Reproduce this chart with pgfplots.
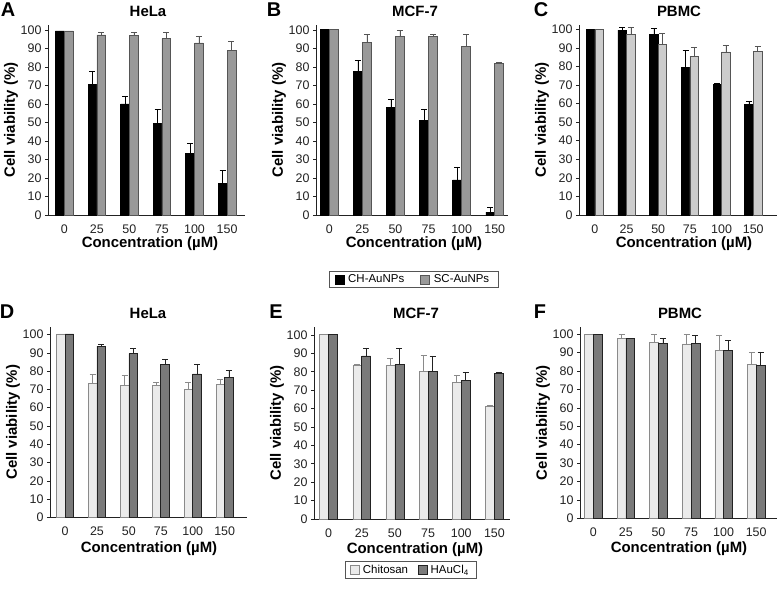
\documentclass[border=0pt]{standalone}
\usepackage{fontspec}
\setmainfont{Liberation Sans}
\usepackage{pgfplots}
\pgfplotsset{compat=1.18}
\definecolor{scgrey}{HTML}{999999}
\definecolor{pbgrey}{HTML}{CCCCCC}
\definecolor{chit}{HTML}{EBEBEB}
\definecolor{hau}{HTML}{7A7A7A}
\definecolor{edgegrey}{HTML}{555555}
\definecolor{lightedge}{HTML}{8A8A8A}
\definecolor{axisc}{HTML}{222222}

\newcommand{\lblfont}{\fontsize{15}{17}\selectfont\bfseries}
\pgfplotsset{
  panel/.style={
    scale only axis,
    axis lines=left,
    axis line style={-, line width=0.8bp, color=axisc},
    ybar, bar width=0.27,
    enlargelimits=false,
    ymin=0,
    ytick={0,10,...,100},
    xtick={0,1,2,3,4,5},
    xticklabels={0,25,50,75,100,150},
    xtick style={draw=none},
    ytick style={line width=0.6bp, color=axisc},
    tick align=outside,
    major tick length=3bp,
    /pgf/number format/assume math mode=true,
    tick label style={font=\fontsize{12.5}{14}\selectfont, color=axisc},
    xticklabel style={yshift=-3bp},
    xlabel={Concentration (µM)},
    ylabel={Cell viability (\%)},
    every axis x label/.style={at={(axis description cs:0.5,0)}, anchor=center, yshift=-28.5bp, font=\lblfont},
    every axis y label/.style={at={(axis description cs:0,0.5)}, anchor=center, xshift=-37bp, rotate=90, font=\lblfont},
    every axis title/.style={at={(axis description cs:0.5,1)}, anchor=center, yshift=14bp, font=\lblfont},
    error bars/y dir=plus,
    error bars/y explicit,
    error bars/error mark options={rotate=90, mark size=3bp, line width=0.6bp},
    legend image code/.code={\draw[#1, line width=0.6bp] (0bp,-4.5bp) rectangle (9bp,4.5bp);},
  },
  leftbar/.style={bar shift=-0.135, line width=0.6bp},
  rightbar/.style={bar shift=0.135, line width=0.6bp},
}

\begin{document}
\begin{tikzpicture}
\useasboundingbox (0,0) rectangle (778bp,-590bp);

% ---------- A ----------
\begin{axis}[panel, at={(48bp,-215bp)}, anchor=south west,
  width=197bp, height=190bp, xmin=-0.5, xmax=5.55, ymax=102.7,
  title={HeLa}, title style={xshift=1.5bp}, xlabel style={xshift=3.5bp}]
\addplot[leftbar, fill=black, draw=black, error bars/error bar style={black, line width=0.6bp}]
  coordinates {(0,99.5) +- (0,0) (1,70.8) +- (0,7) (2,60) +- (0,4) (3,49.5) +- (0,7.5) (4,33.5) +- (0,5.3) (5,17) +- (0,7)};
\addplot[rightbar, fill=scgrey, draw=edgegrey, error bars/error bar style={edgegrey, line width=0.6bp}]
  coordinates {(0,99.5) +- (0,0) (1,97.3) +- (0,1.3) (2,96.9) +- (0,1.8) (3,95.3) +- (0,3.3) (4,93) +- (0,3.8) (5,88.8) +- (0,5.2)};
\end{axis}

% ---------- B ----------
\begin{axis}[panel, at={(316bp,-215bp)}, anchor=south west,
  width=192bp, height=190bp, xmin=-0.4, xmax=5.4, ymax=102.7,
  title={MCF-7}, title style={xshift=3bp}, xlabel style={xshift=2bp},
  legend columns=2,
  legend style={at={(axis description cs:0.51,-0.339)}, anchor=center,
    draw=edgegrey, line width=0.6bp, font=\fontsize{11.5}{13}\selectfont,
    inner xsep=5bp, inner ysep=1.5bp,
    nodes={inner xsep=4bp},
    /tikz/every even column/.append style={column sep=12bp}}]
\addplot[leftbar, fill=black, draw=black, error bars/error bar style={black, line width=0.6bp}]
  coordinates {(0,100.5) +- (0,0) (1,77.8) +- (0,5.8) (2,58.2) +- (0,4.3) (3,51.1) +- (0,5.9) (4,19) +- (0,7) (5,1.5) +- (0,2.5)};
\addplot[rightbar, fill=scgrey, draw=edgegrey, error bars/error bar style={edgegrey, line width=0.6bp}]
  coordinates {(0,100.5) +- (0,0) (1,93.5) +- (0,4) (2,96.5) +- (0,3.1) (3,96.5) +- (0,1) (4,91.3) +- (0,6.5) (5,81.8) +- (0,0.9)};
\legend{CH-AuNPs, SC-AuNPs}
\end{axis}

% ---------- C ----------
\begin{axis}[panel, at={(579bp,-215bp)}, anchor=south west,
  width=198bp, height=190bp, xmin=-0.5, xmax=5.75, ymax=102.3,
  title={PBMC}, title style={xshift=1bp}, xlabel style={xshift=6bp}]
\addplot[leftbar, fill=black, draw=black, error bars/error bar style={black, line width=0.6bp}]
  coordinates {(0,100) +- (0,0) (1,99.6) +- (0,1.5) (2,97.1) +- (0,3.4) (3,79.5) +- (0,9.2) (4,70.5) +- (0,0.4) (5,59.6) +- (0,1.5)};
\addplot[rightbar, fill=pbgrey, draw=edgegrey, error bars/error bar style={edgegrey, line width=0.6bp}]
  coordinates {(0,100) +- (0,0) (1,97.1) +- (0,4.2) (2,91.8) +- (0,5.8) (3,85.6) +- (0,4.9) (4,87.8) +- (0,3.8) (5,88.2) +- (0,2.7)};
\end{axis}

% ---------- D ----------
\begin{axis}[panel, at={(50bp,-517.5bp)}, anchor=south west,
  width=197bp, height=190.5bp, xmin=-0.47, xmax=5.7, ymax=104.1,
  title={HeLa}, title style={xshift=-0.5bp}, xlabel style={yshift=-2.5bp, xshift=0.5bp}]
\addplot[leftbar, fill=chit, draw=lightedge, error bars/error bar style={lightedge, line width=0.6bp}]
  coordinates {(0,100.3) +- (0,0) (1,73.3) +- (0,5.1) (2,72.2) +- (0,5.3) (3,72.4) +- (0,1.6) (4,69.8) +- (0,4.2) (5,72.9) +- (0,2.6)};
\addplot[rightbar, fill=hau, draw=axisc, error bars/error bar style={axisc, line width=0.6bp}]
  coordinates {(0,100.3) +- (0,0) (1,93.6) +- (0,0.8) (2,89.6) +- (0,2.8) (3,83.6) +- (0,2.8) (4,78.5) +- (0,5.1) (5,76.5) +- (0,3.7)};
\end{axis}

% ---------- E ----------
\begin{axis}[panel, at={(314bp,-519bp)}, anchor=south west,
  width=196bp, height=192bp, xmin=-0.44, xmax=5.47, ymax=104.3,
  title={MCF-7}, title style={xshift=4bp}, xlabel style={yshift=-2bp, xshift=3bp},
  legend columns=2,
  legend style={at={(axis description cs:0.495,-0.266)}, anchor=center,
    draw=edgegrey, line width=0.6bp, font=\fontsize{11.5}{13}\selectfont,
    inner xsep=4bp, inner ysep=1.5bp,
    nodes={inner xsep=3.5bp},
    /tikz/every even column/.append style={column sep=6bp}}]
\addplot[leftbar, fill=chit, draw=lightedge, error bars/error bar style={lightedge, line width=0.6bp}]
  coordinates {(0,100.5) +- (0,0) (1,83.5) +- (0,0.5) (2,83.5) +- (0,3.8) (3,80.2) +- (0,8.8) (4,74.3) +- (0,3.7) (5,61.3) +- (0,0.2)};
\addplot[rightbar, fill=hau, draw=axisc, error bars/error bar style={axisc, line width=0.6bp}]
  coordinates {(0,100.5) +- (0,0) (1,88.6) +- (0,4.4) (2,83.9) +- (0,9.1) (3,80.2) +- (0,8.4) (4,75.4) +- (0,4.2) (5,79.3) +- (0,0.3)};
\legend{Chitosan, HAuCl\textsubscript{4}}
\end{axis}

% ---------- F ----------
\begin{axis}[panel, at={(580bp,-518.5bp)}, anchor=south west,
  width=197bp, height=191.5bp, xmin=-0.41, xmax=5.64, ymax=103.8,
  title={PBMC}, title style={xshift=1.5bp}, xlabel style={yshift=-1.5bp, xshift=0.5bp}]
\addplot[leftbar, fill=chit, draw=lightedge, error bars/error bar style={lightedge, line width=0.6bp}]
  coordinates {(0,100) +- (0,0) (1,97.5) +- (0,2.5) (2,95.3) +- (0,4.5) (3,94.6) +- (0,5.2) (4,91) +- (0,8.5) (5,83.4) +- (0,6.5)};
\addplot[rightbar, fill=hau, draw=axisc, error bars/error bar style={axisc, line width=0.6bp}]
  coordinates {(0,100) +- (0,0) (1,97.8) +- (0,0) (2,95.1) +- (0,2.4) (3,95.1) +- (0,4) (4,91) +- (0,5.4) (5,83) +- (0,7.3)};
\end{axis}

% panel letters
\begin{scope}[every node/.style={font=\fontsize{20}{22}\selectfont\bfseries, anchor=center, inner sep=0pt}]
\node at (8bp,-10bp) {A};
\node at (274bp,-10bp) {B};
\node at (541bp,-10bp) {C};
\node at (7bp,-312bp) {D};
\node at (276bp,-312bp) {E};
\node at (540bp,-312bp) {F};
\end{scope}
\end{tikzpicture}
\end{document}
